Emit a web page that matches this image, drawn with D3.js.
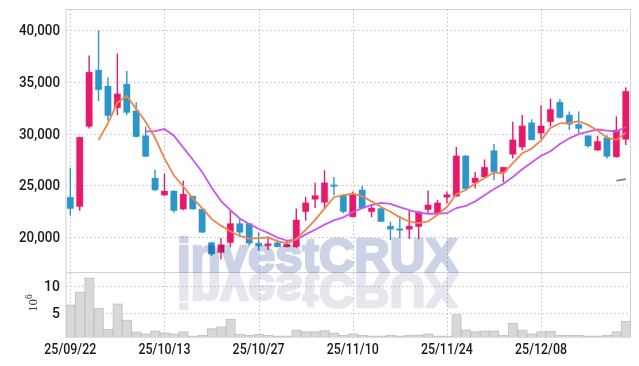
<!DOCTYPE html>
<html>
<head>
<meta charset="utf-8">
<script src="https://cdn.jsdelivr.net/npm/d3@7"></script>
<style>
  body { margin: 0; background: #fff; }
  svg { display: block; }
</style>
</head>
<body>
<div id="chart"></div>
<script>
// trading days shown on the chart
const dates = [
  '25/09/22', '25/09/23', '25/09/24', '25/09/25', '25/09/26',
  '25/09/29', '25/09/30', '25/10/01', '25/10/02', '25/10/10',
  '25/10/13', '25/10/14', '25/10/15', '25/10/16', '25/10/17',
  '25/10/20', '25/10/21', '25/10/22', '25/10/23', '25/10/24',
  '25/10/27', '25/10/28', '25/10/29', '25/10/30', '25/10/31',
  '25/11/03', '25/11/04', '25/11/05', '25/11/06', '25/11/07',
  '25/11/10', '25/11/11', '25/11/12', '25/11/13', '25/11/14',
  '25/11/17', '25/11/18', '25/11/19', '25/11/20', '25/11/21',
  '25/11/24', '25/11/25', '25/11/26', '25/11/27', '25/11/28',
  '25/12/01', '25/12/02', '25/12/03', '25/12/04', '25/12/05',
  '25/12/08', '25/12/09', '25/12/10', '25/12/11', '25/12/12',
  '25/12/15', '25/12/16', '25/12/17', '25/12/18', '25/12/19'
];

const opens = [
  23850, 22950, 30700, 36150, 34600, 32500, 34800, 32200, 29800, 25700,
  24050, 24450, 22700, 23950, 22700, 19450, 18500, 19450, 21300, 21300,
  19400, 19150, 19450, 19050, 19050, 22450, 23650, 23350, 25050, 24050,
  21950, 24550, 22450, 22750, 21050, 20800, 20750, 21000, 22650, 22250,
  23850, 23950, 27850, 25250, 25800, 28350, 26300, 28000, 28700, 31050,
  30050, 31150, 33050, 31800, 30900, 29800, 28400, 29600, 27750, 29450
];
const highs = [
  26700, 29700, 37550, 40000, 35450, 37750, 36050, 33050, 30700, 26500,
  26150, 24500, 25450, 24000, 22750, 19550, 19900, 22600, 21850, 21350,
  20450, 20050, 19750, 19650, 22750, 23900, 25250, 26450, 25800, 24100,
  24400, 24950, 23150, 22800, 21500, 22050, 22600, 22500, 24500, 23600,
  24400, 28700, 27900, 26300, 27500, 29000, 26800, 31150, 31800, 31400,
  32750, 33400, 33350, 32150, 32150, 29850, 29800, 29850, 31650, 34500
];
const lows = [
  22050, 22550, 30500, 33150, 31250, 31800, 31800, 29650, 27750, 24450,
  24000, 22350, 22600, 22650, 20400, 18150, 17850, 19000, 20200, 19150,
  18700, 18750, 19000, 19000, 18950, 21600, 22800, 22800, 24050, 22300,
  21900, 22750, 21900, 21450, 19700, 19900, 19800, 19800, 22200, 22200,
  23250, 23900, 24500, 24700, 25750, 25500, 25300, 27600, 28400, 29350,
  29500, 30700, 31500, 30350, 30050, 28650, 28350, 27600, 27700, 28900
];
const closes = [
  22750, 29650, 35950, 34250, 31750, 33850, 32050, 29700, 27800, 24550,
  24450, 22550, 24150, 22700, 20450, 18350, 19250, 21300, 20450, 19400,
  19150, 19350, 19050, 19300, 21650, 23300, 24000, 25250, 24900, 22450,
  24100, 22800, 22800, 21500, 20750, 20750, 21050, 22450, 23100, 23300,
  24100, 27850, 24650, 25700, 26750, 26300, 26750, 29400, 30750, 29400,
  30750, 32350, 31550, 30900, 30500, 28800, 29250, 27800, 30350, 34100
];

// volume, millions of shares
const volumes = [
  6.4, 8.8, 11.4, 5.8, 1.9, 6.6, 3.6, 1.4, 1.05, 1.6,
  1.25, 1.05, 1.45, 0.65, 0.8, 2.0, 2.35, 3.8, 1.0, 0.8,
  1.0, 0.8, 0.65, 0.65, 1.75, 1.45, 1.45, 1.65, 1.2, 0.8,
  1.05, 0.8, 0.65, 0.65, 0.8, 0.65, 0.8, 0.85, 1.05, 0.65,
  0.65, 4.6, 1.8, 1.45, 1.6, 1.6, 0.8, 3.0, 1.75, 1.05,
  1.45, 1.55, 0.8, 0.8, 0.8, 0.65, 0.65, 0.8, 1.45, 3.4
];

// moving averages
const ma5 = [
  null, null, null, 29400, 31000, 33000, 33650, 32400, 31150, 29600,
  27600, 25950, 24900, 23750, 22800, 21750, 21100, 20550, 20100, 19850,
  19900, 19950, 19600, 19400, 19800, 20700, 21650, 22750, 23850, 24050,
  24200, 23950, 23450, 22900, 22450, 21900, 21500, 21350, 21500, 22150,
  22900, 24150, 24550, 25150, 25700, 26250, 26150, 27150, 28100, 28550,
  29350, 30550, 31000, 31050, 31200, 30850, 30300, 29600, 29400, 30100
];
const ma10 = [
  null, null, null, null, null, null, null, null, 30200, 30250,
  30450, 29800, 28650, 27500, 26300, 24800, 23500, 22600, 21800, 21250,
  20800, 20400, 19950, 19650, 19750, 20250, 20700, 21200, 21600, 21900,
  22400, 22800, 23100, 23300, 23200, 22900, 22600, 22350, 22250, 22250,
  22300, 22800, 23000, 23450, 24050, 24650, 25150, 25800, 26550, 27200,
  27850, 28300, 29000, 29550, 29950, 30200, 30400, 30300, 30200, 30650
];
const ma60 = [
  null, null, null, null, null, null, null, null, null, null,
  null, null, null, null, null, null, null, null, null, null,
  null, null, null, null, null, null, null, null, null, null,
  null, null, null, null, null, null, null, null, null, null,
  null, null, null, null, null, null, null, null, null, null,
  null, null, null, null, null, null, null, null, 25450, 25600
];

const priceTicks = [20000, 25000, 30000, 35000, 40000];
const volumeTicks = [5, 10];
const dateTicks = [0, 10, 20, 30, 40, 50];

const W = 639, H = 366;
const frame = { left: 66, right: 630.5, top: 9.5, mid: 272.5, bottom: 337.5 };
const UP = '#e6196a', DOWN = '#2d96c8';

const svg = d3.select('#chart').append('svg')
  .attr('width', W)
  .attr('height', H);

const x = d3.scaleBand().domain(d3.range(dates.length)).range([65.6, frame.right]);
const cx = i => x(i) + x.bandwidth() / 2;
const y = d3.scaleLinear().domain([20000, 40000]).range([237, 30.3]);
const yv = d3.scaleLinear().domain([0, 10]).range([339.7, 285.7]);

const defs = svg.append('defs');
defs.append('clipPath').attr('id', 'clip-price').append('rect')
  .attr('x', frame.left).attr('y', frame.top)
  .attr('width', frame.right - frame.left).attr('height', frame.mid - frame.top);
defs.append('clipPath').attr('id', 'clip-vol').append('rect')
  .attr('x', frame.left).attr('y', frame.mid)
  .attr('width', frame.right - frame.left).attr('height', frame.bottom - frame.mid);

// Grid
const grid = svg.append('g')
  .attr('stroke', '#b9c0d6')
  .attr('stroke-width', 1)
  .attr('stroke-dasharray', '1.5,2.5');
grid.selectAll('.hp').data(priceTicks).join('line')
  .attr('x1', frame.left).attr('x2', frame.right)
  .attr('y1', d => Math.round(y(d)) + 0.5).attr('y2', d => Math.round(y(d)) + 0.5);
grid.selectAll('.hv').data(volumeTicks).join('line')
  .attr('x1', frame.left).attr('x2', frame.right)
  .attr('y1', d => Math.round(yv(d)) + 0.5).attr('y2', d => Math.round(yv(d)) + 0.5);
grid.selectAll('.v').data(dateTicks).join('line')
  .attr('x1', d => Math.round(cx(d)) + 0.5).attr('x2', d => Math.round(cx(d)) + 0.5)
  .attr('y1', frame.top).attr('y2', frame.bottom);

// Frame
const fr = svg.append('g').attr('stroke', '#cfd1d8').attr('stroke-width', 1).attr('fill', 'none');
fr.append('line').attr('x1', frame.left).attr('x2', frame.right).attr('y1', frame.top).attr('y2', frame.top);
fr.append('line').attr('x1', frame.left).attr('x2', frame.right).attr('y1', frame.mid).attr('y2', frame.mid);
fr.append('line').attr('x1', frame.left).attr('x2', frame.left).attr('y1', frame.top).attr('y2', frame.bottom);
fr.append('line').attr('x1', frame.right).attr('x2', frame.right).attr('y1', frame.top).attr('y2', frame.bottom);

// Volume bars
svg.append('g').attr('clip-path', 'url(#clip-vol)')
  .selectAll('rect')
  .data(volumes)
  .join('rect')
  .attr('x', (d, i) => x(i) + 0.5)
  .attr('width', x.bandwidth() - 0.5)
  .attr('y', d => yv(d))
  .attr('height', d => Math.max(0, frame.bottom - yv(d)))
  .attr('fill', '#d8d8d8')
  .attr('stroke', '#bdbdbd')
  .attr('stroke-width', 0.8);

// Candles
const candles = svg.append('g').attr('clip-path', 'url(#clip-price)');
const idx = d3.range(dates.length);
const colorOf = i => closes[i] >= opens[i] ? UP : DOWN;
const bodyW = 6.4;

candles.selectAll('.wick').data(idx).join('line')
  .attr('x1', i => cx(i)).attr('x2', i => cx(i))
  .attr('y1', i => y(highs[i])).attr('y2', i => y(lows[i]))
  .attr('stroke', colorOf)
  .attr('stroke-width', 1.4);

candles.selectAll('.body').data(idx).join('rect')
  .attr('x', i => cx(i) - bodyW / 2)
  .attr('width', bodyW)
  .attr('y', i => y(Math.max(opens[i], closes[i])))
  .attr('height', i => Math.max(1.5, Math.abs(y(opens[i]) - y(closes[i]))))
  .attr('fill', colorOf)
  .attr('stroke', colorOf)
  .attr('stroke-opacity', 0.35)
  .attr('stroke-width', 1);

// Moving averages
const line = d3.line()
  .defined(d => d != null)
  .x((d, i) => cx(i))
  .y(d => y(d));

const maLayer = svg.append('g').attr('clip-path', 'url(#clip-price)').attr('fill', 'none');
maLayer.append('path').datum(ma10).attr('d', line).attr('stroke', '#cc55ee').attr('stroke-width', 1.8);
maLayer.append('path').datum(ma5).attr('d', line).attr('stroke', '#f0844e').attr('stroke-width', 1.8);
maLayer.append('path').datum(ma60).attr('d', line).attr('stroke', '#7a7a7a').attr('stroke-width', 1.6);

// Watermark with reflection
const mark = svg.append('g').style('mix-blend-mode', 'multiply');
const markText = (fill, flip) => mark.append('text')
  .attr('x', 177).attr('y', frame.mid - 1)
  .attr('transform', flip ? `translate(0,${2 * frame.mid}) scale(1,-1)` : null)
  .attr('font-family', '"Liberation Sans", Arial, sans-serif')
  .attr('font-weight', 'bold')
  .attr('font-size', 49)
  .attr('textLength', 281)
  .attr('lengthAdjust', 'spacingAndGlyphs')
  .attr('fill', fill)
  .attr('stroke', fill)
  .attr('stroke-width', 2.6)
  .attr('stroke-linejoin', 'round')
  .text('investCRUX');
markText('#ccd3e7', false);
markText('#e6e6ef', true);

// Axes
const labelFont = 'Roboto, "Open Sans", sans-serif';

const yAxis = svg.append('g')
  .attr('transform', `translate(${frame.left},0)`)
  .call(d3.axisLeft(y).tickValues(priceTicks).tickFormat(d3.format(',')).tickSize(0).tickPadding(6));
yAxis.select('.domain').remove();
yAxis.selectAll('text')
  .attr('font-family', labelFont).attr('font-size', 14).attr('font-weight', 500)
  .attr('fill', '#1a1a1a')
  .attr('textLength', 41).attr('lengthAdjust', 'spacingAndGlyphs');

const vAxis = svg.append('g')
  .attr('transform', `translate(${frame.left},0)`)
  .call(d3.axisLeft(yv).tickValues(volumeTicks).tickFormat(d3.format('d')).tickSize(0).tickPadding(6));
vAxis.select('.domain').remove();
vAxis.selectAll('text')
  .attr('font-family', labelFont).attr('font-size', 14).attr('font-weight', 500)
  .attr('fill', '#1a1a1a');

const xAxis = svg.append('g')
  .attr('transform', `translate(0,${frame.bottom})`)
  .call(d3.axisBottom(x).tickValues(dateTicks).tickFormat(i => dates[i]).tickSize(0).tickPadding(5));
xAxis.select('.domain').remove();
xAxis.selectAll('text')
  .attr('font-family', labelFont).attr('font-size', 15.5).attr('font-weight', 500)
  .attr('fill', '#1a1a1a')
  .attr('textLength', 52).attr('lengthAdjust', 'spacingAndGlyphs');

// volume unit label
const unit = svg.append('text')
  .attr('transform', 'translate(37,312) rotate(-90)')
  .attr('font-family', '"Liberation Serif", "DejaVu Serif", serif')
  .attr('font-size', 13)
  .attr('fill', '#333');
unit.append('tspan').text('10');
unit.append('tspan').attr('dy', -5).attr('font-size', 9.5).text('6');
</script>
</body>
</html>
